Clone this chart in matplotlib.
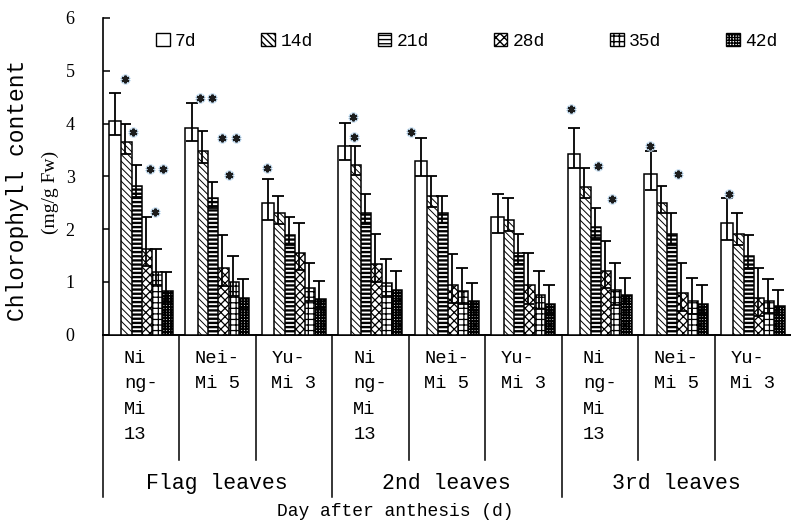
import matplotlib
matplotlib.use("Agg")
import matplotlib.pyplot as plt
from matplotlib.patches import Rectangle
import numpy as np

# ---- data -------------------------------------------------------------
series = ["7d", "14d", "21d", "28d", "35d", "42d"]
variety_labels = ["Ni\nng-\nMi\n13", "Nei-\nMi 5", "Yu-\nMi 3"] * 3
leaf_labels = ["Flag leaves", "2nd leaves", "3rd leaves"]

d7 = [4.05, 3.91, 2.49, 3.57, 3.28, 2.22, 3.43, 3.04, 2.12]
d14 = [3.64, 3.47, 2.30, 3.21, 2.63, 2.18, 2.79, 2.49, 1.91]
d21 = [2.82, 2.58, 1.89, 2.30, 2.30, 1.54, 2.03, 1.91, 1.48]
d28 = [1.62, 1.27, 1.55, 1.33, 0.93, 0.93, 1.21, 0.78, 0.69]
d35 = [1.18, 1.00, 0.89, 0.98, 0.82, 0.75, 0.84, 0.64, 0.64]
d42 = [0.82, 0.69, 0.67, 0.84, 0.64, 0.58, 0.75, 0.58, 0.54]

# upper / lower error bars
e7 = [0.52, 0.48, 0.46, 0.44, 0.45, 0.44, 0.48, 0.44, 0.46]
e14 = [0.36, 0.39, 0.33, 0.36, 0.37, 0.40, 0.36, 0.33, 0.39]
e21 = [0.39, 0.32, 0.33, 0.37, 0.33, 0.37, 0.36, 0.39, 0.40]
e28 = [0.60, 0.62, 0.57, 0.58, 0.59, 0.62, 0.57, 0.58, 0.58]
e35 = [0.45, 0.48, 0.47, 0.45, 0.45, 0.46, 0.52, 0.44, 0.41]
e42 = [0.36, 0.36, 0.34, 0.37, 0.33, 0.35, 0.33, 0.36, 0.30]

l7 = [0.27, 0.25, 0.31, 0.26, 0.28, 0.29, 0.28, 0.31, 0.32]
l14 = [0.22, 0.22, 0.20, 0.19, 0.21, 0.22, 0.20, 0.19, 0.22]
l21 = [0.22, 0.18, 0.19, 0.21, 0.19, 0.21, 0.20, 0.22, 0.22]
l28 = [0.33, 0.35, 0.32, 0.33, 0.33, 0.35, 0.32, 0.33, 0.33]
l35 = [0.25, 0.27, 0.26, 0.25, 0.25, 0.26, 0.29, 0.25, 0.23]
l42 = [0.20, 0.20, 0.19, 0.21, 0.18, 0.20, 0.18, 0.20, 0.17]

# significance marks: group index, offset inside the group, height
star_group = [0, 0, 0, 0, 0, 1, 1, 1, 1, 1, 2, 3, 3, 4, 6, 6, 6, 7, 7, 8]
star_dx = [-0.20, -0.10, 0.12, 0.29, 0.18, -0.23, -0.07, 0.06, 0.25, 0.16,
           -0.35, -0.23, -0.21, -0.47, -0.38, -0.02, 0.16, -0.34, 0.02, -0.31]
star_y = [4.84, 3.84, 3.14, 3.14, 2.32, 4.48, 4.48, 3.72, 3.72, 3.02,
          3.15, 4.12, 3.74, 3.84, 4.27, 3.19, 2.56, 3.57, 3.04, 2.66]

values = [d7, d14, d21, d28, d35, d42]
err_hi = [e7, e14, e21, e28, e35, e42]
err_lo = [l7, l14, l21, l28, l35, l42]

# ---- styles -------------------------------------------------------------
hatches = ["", "\\\\\\\\\\", "----", "xxxx", "+++", "++++++"]
hatch_lw = [0.8, 0.7, 1.7, 0.9, 0.9, 1.3]
mono = "Liberation Mono"
serif = "Liberation Serif"

fig = plt.figure(figsize=(7.91, 5.25), dpi=100)
ax = fig.add_axes([102.5 / 791, 1 - 334.5 / 525, 688.5 / 791, 316.5 / 525])

n_groups = len(d7)
groups = np.arange(n_groups)
bar_w = 0.166
step = 0.134
start = -0.418

for j, (name, vals) in enumerate(zip(series, values)):
    centers = groups + start + j * step + bar_w / 2
    with plt.rc_context({"hatch.linewidth": hatch_lw[j]}):
        bars = ax.bar(centers, vals, width=bar_w, color="white",
                      edgecolor="black", linewidth=1.1, hatch=hatches[j],
                      zorder=20 - 2 * j, label=name)
    for b in bars:
        if hasattr(b, "set_hatch_linewidth"):
            b.set_hatch_linewidth(hatch_lw[j])
    ax.errorbar(centers, vals, yerr=[err_lo[j], err_hi[j]], fmt="none",
                ecolor="black", elinewidth=1.3, capsize=4.4, capthick=1.3,
                zorder=21 - 2 * j)

# significance asterisks
sx = np.array(star_group) + np.array(star_dx)
ax.plot(sx, star_y, ls="none", marker=(6, 2, 0), ms=7, mew=2.6,
        color="#c4dcf0", zorder=40)
ax.plot(sx, star_y, ls="none", marker=(6, 2, 0), ms=5.5, mew=1.5,
        color="#1c1c1c", zorder=41)

ax.set_xlim(-0.5, n_groups - 0.5)
ax.set_ylim(0, 6)
ax.set_yticks(range(7))
ax.tick_params(axis="y", direction="in", length=5, width=1.1, pad=20,
               labelsize=13)
for t in ax.get_yticklabels():
    t.set_fontfamily(serif)

ax.set_xticks(groups)
ax.set_xticklabels(variety_labels, fontfamily=mono, fontsize=13.5,
                   linespacing=1.65, multialignment="left")
ax.tick_params(axis="x", length=0, pad=11)

for s in ("top", "right"):
    ax.spines[s].set_visible(False)
ax.spines["left"].set_linewidth(1.2)
ax.spines["bottom"].set_linewidth(1.4)

# category separators below the axis
xt = ax.get_xaxis_transform()
for b in np.arange(0.5, n_groups - 0.5, 1.0):
    depth = -0.513 if int(b + 0.5) % 3 == 0 else -0.397
    ax.plot([b, b], [0, depth], color="black", lw=1.1, transform=xt,
            clip_on=False)
ax.plot([-0.5, -0.5], [0, -0.513], color="black", lw=1.1, transform=xt,
        clip_on=False)

for k, lab in enumerate(leaf_labels):
    ax.text(3 * k + 1, -0.472, lab, transform=xt, ha="center", va="center",
            fontfamily=mono, fontsize=15.5)

fig.text(0.5, 1 - 512 / 525, "Day after anthesis (d)", ha="center",
         va="center", fontfamily=mono, fontsize=13)
fig.text(18 / 791, 1 - 190 / 525, "Chlorophyll content", rotation=90,
         ha="center", va="center", fontfamily=mono, fontsize=16.5)
fig.text(50 / 791, 1 - 192 / 525, "(mg/g Fw)", rotation=90,
         ha="center", va="center", fontfamily=serif, fontsize=14)

# legend
handles = []
for j, name in enumerate(series):
    with plt.rc_context({"hatch.linewidth": hatch_lw[j]}):
        h = Rectangle((0, 0), 1, 1, facecolor="white", edgecolor="black",
                      linewidth=1.0, hatch=hatches[j])
    if hasattr(h, "set_hatch_linewidth"):
        h.set_hatch_linewidth(hatch_lw[j])
    handles.append(h)
leg = fig.legend(handles, series, loc="center left",
                 bbox_to_anchor=(156 / 791, 1 - 41 / 525), ncol=6,
                 frameon=False, handlelength=0.75, handleheight=0.75,
                 handletextpad=0.3, columnspacing=3.6, borderpad=0,
                 borderaxespad=0, prop={"family": mono, "size": 13})

fig.savefig("out.png", dpi=100)
